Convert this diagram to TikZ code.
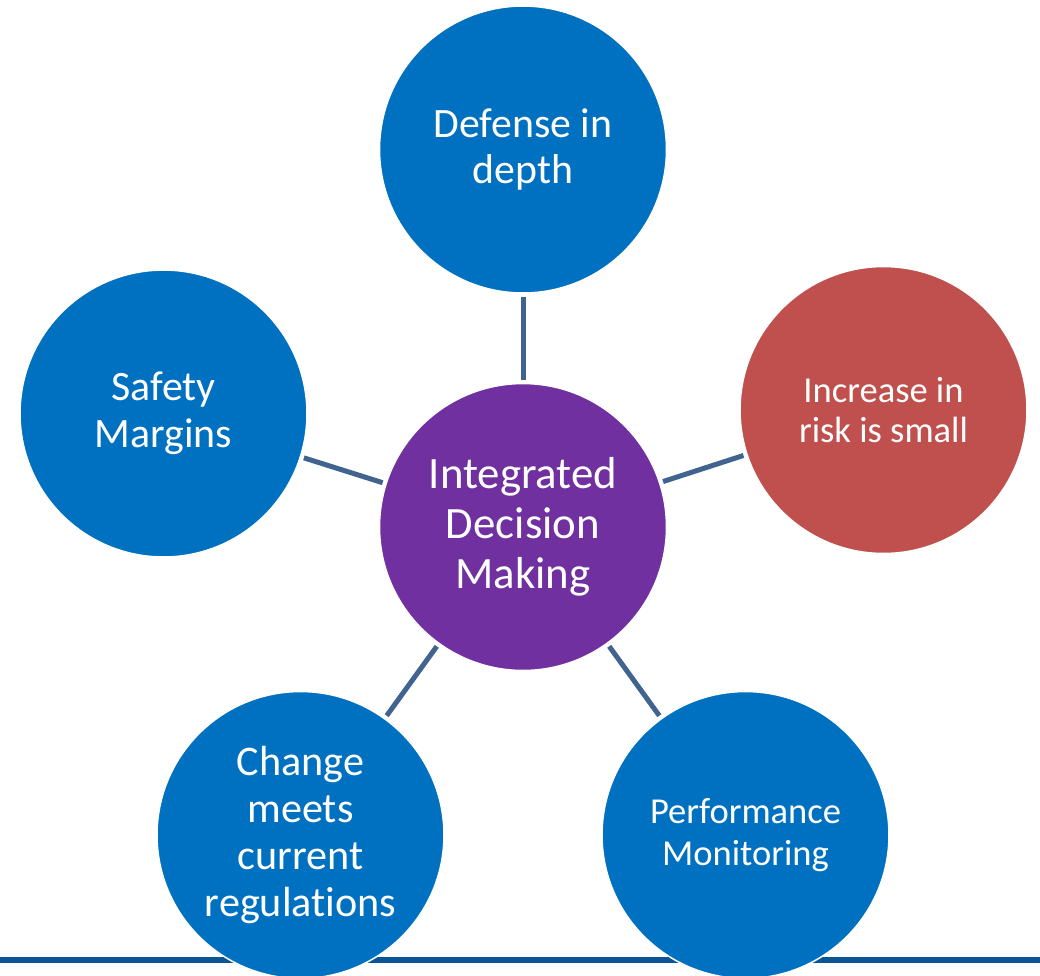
\documentclass[tikz,border=0pt]{standalone}
\usepackage{fontspec}
\setmainfont{Carlito}[Ligatures=NoCommon]

\definecolor{hubpurple}{HTML}{7030A0}
\definecolor{spokeblue}{HTML}{0070C0}
\definecolor{spokered}{HTML}{C0504D}
\definecolor{linkgray}{HTML}{41638F}
\definecolor{barblue}{HTML}{0B5596}

\begin{document}
\begin{tikzpicture}[x=0.02cm, y=-0.02cm,
    ball/.style={circle, minimum size=5.74cm, inner sep=0pt, draw=white,
      line width=0.03cm, fill=spokeblue, text=white, align=center},
    link/.style={draw=linkgray, line width=0.1cm, shorten <=0.06cm, shorten >=0.06cm}]
        \useasboundingbox (0,0) rectangle (1040,975);
        \clip (0,0) rectangle (1040,975);

        % 底部横线
        \draw[barblue, line width=0.12cm] (0,960) -- (1040,960);

        % 中心圆
        \node[ball, fill=hubpurple, font=\fontsize{25.5}{28.4}\selectfont] (hub) at (523,527)
            {Integrated\\Decision\\Making};

        % 周围五个圆
        \node[ball, font=\fontsize{23.8}{26.1}\selectfont] (depth) at (523,149.5)
            {Defense in\\depth};
        \node[ball, fill=spokered, font=\fontsize{20.8}{22.7}\selectfont] (risk) at (883.5,410)
            {Increase in\\risk is small};
        \node[ball, font=\fontsize{23.8}{26.6}\selectfont] (margins) at (163.5,413.5)
            {Safety\\Margins};
        \node[ball, font=\fontsize{24}{26.6}\selectfont] (rules) at (300.5,835)
            {Change\\meets\\current\\regulations};
        \node[ball, font=\fontsize{20.8}{23.8}\selectfont] (monitor) at (745.5,835)
            {Performance\\Monitoring};

        % 连线
        \draw[link] (hub) -- (depth);
        \draw[link] (hub) -- (risk);
        \draw[link] (hub) -- (margins);
        \draw[link] (hub) -- (rules);
        \draw[link] (hub) -- (monitor);
    \end{tikzpicture}
\end{document}
